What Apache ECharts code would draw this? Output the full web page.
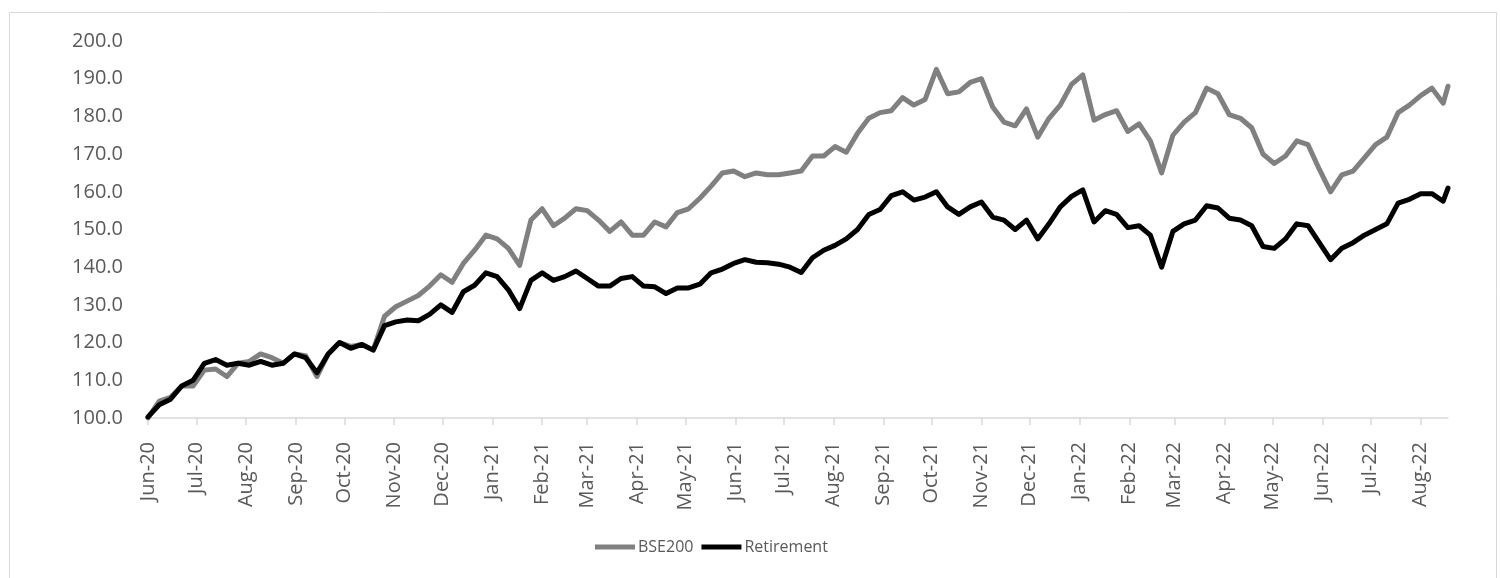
<!DOCTYPE html>
<html>
<head>
<meta charset="utf-8">
<script src="https://cdn.jsdelivr.net/npm/echarts@6/dist/echarts.min.js"></script>
<style>
html,body{margin:0;padding:0;background:#fff;}
#chart{width:1500px;height:578px;}
</style>
</head>
<body>
<div id="chart"></div>
<script>
// Month tick labels (month starts, Jun 2020 .. Aug 2022)
const monthLabels = ['Jun-20','Jul-20','Aug-20','Sep-20','Oct-20','Nov-20','Dec-20',
  'Jan-21','Feb-21','Mar-21','Apr-21','May-21','Jun-21','Jul-21','Aug-21','Sep-21','Oct-21','Nov-21','Dec-21',
  'Jan-22','Feb-22','Mar-22','Apr-22','May-22','Jun-22','Jul-22','Aug-22'];
const startDate = '2020-06-01';
const endDate = '2022-08-18';

// Weekly observations (the last value is the final data date)
const bse200 = [
  100.0,104.5,105.5,108.5,108.5,112.7,113.0,111.0,114.5,115.0,
  117.0,116.0,114.5,117.0,116.5,111.0,117.0,120.0,119.0,119.5,
  118.0,127.0,129.5,131.0,132.5,135.0,138.0,136.0,141.0,144.5,
  148.5,147.5,145.0,140.5,152.5,155.5,151.0,153.0,155.5,155.0,
  152.5,149.5,152.0,148.5,148.5,152.0,150.7,154.5,155.5,158.3,
  161.5,165.0,165.5,164.0,165.0,164.5,164.5,165.0,165.5,169.5,
  169.5,172.0,170.5,175.5,179.5,181.0,181.5,185.0,183.0,184.5,
  192.5,186.0,186.5,189.0,190.0,182.5,178.5,177.5,182.0,174.5,
  179.5,183.0,188.5,191.0,179.0,180.5,181.5,176.0,178.0,173.5,
  165.0,175.0,178.5,181.0,187.5,186.0,180.5,179.5,177.0,170.0,
  167.5,169.5,173.5,172.5,166.0,160.0,164.5,165.5,169.0,172.5,
  174.5,181.0,183.0,185.5,187.5,183.5,188.0
];
const retirement = [
  100.3,103.5,105.0,108.5,110.0,114.5,115.5,114.0,114.5,114.0,
  115.0,114.0,114.5,117.0,116.0,112.0,117.0,120.0,118.5,119.5,
  118.0,124.5,125.5,126.0,125.8,127.5,130.0,128.0,133.5,135.2,
  138.5,137.5,134.0,129.0,136.5,138.5,136.5,137.5,139.0,137.0,
  135.0,135.0,137.0,137.5,135.0,134.8,133.0,134.5,134.5,135.5,
  138.5,139.5,141.0,142.0,141.3,141.2,140.8,140.0,138.6,142.5,
  144.5,145.8,147.5,150.0,154.0,155.3,159.0,160.0,157.8,158.6,
  160.0,156.0,154.0,156.0,157.3,153.3,152.5,150.0,152.5,147.5,
  151.5,156.0,158.8,160.5,152.0,155.0,154.0,150.5,151.0,148.5,
  140.0,149.5,151.5,152.5,156.3,155.7,153.0,152.5,151.0,145.5,
  145.0,147.5,151.5,151.0,146.5,142.0,145.0,146.5,148.5,150.0,
  151.5,157.0,158.0,159.5,159.5,157.5,161.0
];

// ---- build helpers ----
const DAY = 86400000;
function dayOffset(iso){
  const [y,m,d] = iso.split('-').map(Number);
  return Math.round((Date.UTC(y,m-1,d) - Date.UTC(2020,5,1)) / DAY);
}
const endDay = dayOffset(endDate);
// weekly observation dates, last one = final data date
const obsDays = [];
for (let i = 0; i < bse200.length - 1; i++) obsDays.push(i * 7);
obsDays.push(endDay);

const monthDays = monthLabels.map((lab, i) => {
  const y = 2020 + Math.floor((5 + i) / 12);
  const m = (5 + i) % 12;
  return Math.round((Date.UTC(y, m, 1) - Date.UTC(2020,5,1)) / DAY);
});
const labelByDay = {};
monthDays.forEach((d, i) => labelByDay[d] = monthLabels[i]);

const chart = echarts.init(document.getElementById('chart'), null, {renderer:'canvas'});
const font = '"Open Sans", "Liberation Sans", sans-serif';
chart.setOption({
  animation: false,
  backgroundColor: '#ffffff',
  graphic: [{
    type: 'rect', left: 7, top: 10, silent: true,
    shape: {width: 1487, height: 600},
    style: {fill: 'none', stroke: '#d9d9d9', lineWidth: 1}
  }],
  grid: {left: 148, right: 52, top: 41, bottom: 160},
  legend: {
    bottom: 18, left: 590,
    itemWidth: 40, itemHeight: 5, itemGap: 8,
    icon: 'rect',
    textStyle: {fontFamily: font, fontSize: 16, color: '#595959', padding: [0,0,0,-2]},
    data: ['BSE200', 'Retirement']
  },
  xAxis: {
    type: 'value', min: 0, max: endDay,
    splitLine: {show: false},
    axisLine: {show: true, lineStyle: {color: '#d9d9d9', width: 1.5}},
    axisTick: {show: true, length: 7, customValues: monthDays, lineStyle: {color: '#d9d9d9', width: 1.5}},
    axisLabel: {
      customValues: monthDays, rotate: 90, margin: 24,
      fontFamily: font, fontSize: 20, color: '#595959',
      formatter: v => labelByDay[Math.round(v)] || ''
    }
  },
  yAxis: {
    type: 'value', min: 100, max: 200, interval: 10,
    splitLine: {show: false},
    axisLine: {show: false}, axisTick: {show: false},
    axisLabel: {fontFamily: font, fontSize: 20, color: '#595959', margin: 25,
      formatter: v => v.toFixed(1)}
  },
  series: [
    {name: 'BSE200', type: 'line', showSymbol: false, symbol: 'none',
     lineStyle: {color: '#808080', width: 5, join: 'round', cap: 'round'}, itemStyle: {color: '#808080'},
     data: obsDays.map((d, i) => [d, bse200[i]])},
    {name: 'Retirement', type: 'line', showSymbol: false, symbol: 'none',
     lineStyle: {color: '#000000', width: 5, join: 'round', cap: 'round'}, itemStyle: {color: '#000000'},
     data: obsDays.map((d, i) => [d, retirement[i]])}
  ]
});
</script>
</body>
</html>
